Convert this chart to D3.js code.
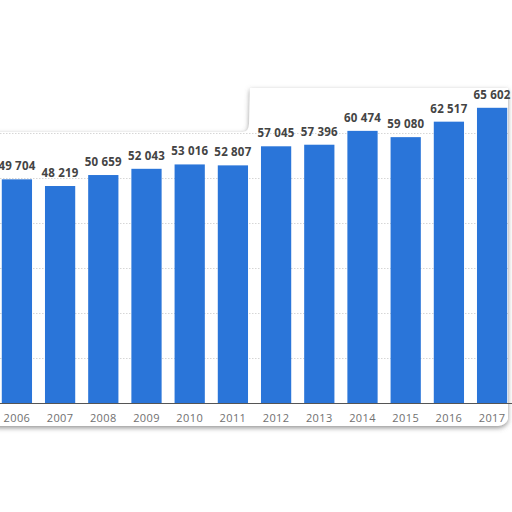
<!DOCTYPE html>
<html>
<head>
<meta charset="utf-8">
<script src="https://cdn.jsdelivr.net/npm/d3@7"></script>
<style>
  html, body { margin: 0; padding: 0; background: #fff; }
  svg { display: block; font-family: "Open Sans", sans-serif; }
</style>
</head>
<body>
<div id="chart"></div>
<script>
// Dati
const years = ["2006", "2007", "2008", "2009", "2010", "2011", "2012", "2013", "2014", "2015", "2016", "2017"];
const values = [49704, 48219, 50659, 52043, 53016, 52807, 57045, 57396, 60474, 59080, 62517, 65602];
const gridTicks = [10000, 20000, 30000, 40000, 50000, 60000];

const WIDTH = 512;
const HEIGHT = 512;
const BASE_Y = 403;
const TOP_Y = 88;

const svg = d3.select("#chart")
    .append("svg")
    .attr("width", WIDTH)
    .attr("height", HEIGHT);

const defs = svg.append("defs");
const shadow = defs.append("filter")
    .attr("id", "paper-shadow")
    .attr("x", "-10%").attr("y", "-10%")
    .attr("width", "120%").attr("height", "130%");
shadow.append("feDropShadow")
    .attr("dx", 0).attr("dy", 2)
    .attr("stdDeviation", 2.6)
    .attr("flood-color", "#666")
    .attr("flood-opacity", 0.7);

// Sagoma del foglio ritagliato
const paper = "M-5,132 L243,132 Q249,131 249,124 L250,88 L508,88 L508,419 Q506,425 498,426 L-5,426 Z";
defs.append("clipPath").attr("id", "paper-clip")
    .append("path").attr("d", paper);

svg.append("path")
    .attr("d", paper)
    .attr("fill", "#fff")
    .attr("filter", "url(#paper-shadow)");

const g = svg.append("g").attr("clip-path", "url(#paper-clip)");

const x = d3.scaleBand()
    .domain(years)
    .range([-4.7, 513.7])
    .paddingInner(0.3)
    .paddingOuter(0.15);

const y = d3.scaleLinear()
    .domain([0, 70000])
    .range([BASE_Y, TOP_Y]);

// Griglia tratteggiata
g.selectAll("line.grid")
    .data(gridTicks)
    .enter()
    .append("line")
    .attr("class", "grid")
    .attr("x1", 0).attr("x2", WIDTH)
    .attr("y1", d => y(d) + 0.5).attr("y2", d => y(d) + 0.5)
    .attr("stroke", "#d6d6d6")
    .attr("stroke-dasharray", "1.5,1.5");

// Barre
g.selectAll("rect.bar")
    .data(values)
    .enter()
    .append("rect")
    .attr("class", "bar")
    .attr("x", (d, i) => x(years[i]))
    .attr("width", x.bandwidth())
    .attr("y", d => y(d))
    .attr("height", d => BASE_Y - y(d))
    .attr("fill", "#2a75d9");

// Asse x
const xAxis = d3.axisBottom(x).tickSize(0).tickPadding(11);
const ax = svg.append("g")
    .attr("transform", `translate(0,${BASE_Y})`)
    .call(xAxis);
ax.select(".domain").attr("stroke", "#555").attr("stroke-width", 1.2);
ax.selectAll("text")
    .attr("fill", "#707070")
    .style("font-size", "11px")
    .style("letter-spacing", "0.4px")
    .style("font-family", "'Open Sans', sans-serif");

// Etichette valori
const fmt = v => d3.format(",")(v).replace(",", " ");
svg.selectAll("text.value")
    .data(values)
    .enter()
    .append("text")
    .attr("class", "value")
    .attr("x", (d, i) => x(years[i]) + x.bandwidth() / 2)
    .attr("y", d => y(d) - 9)
    .attr("text-anchor", "middle")
    .attr("fill", "#444")
    .style("font-size", "11.5px")
    .style("font-weight", "bold")
    .style("letter-spacing", "0.2px")
    .text(d => fmt(d));
</script>
</body>
</html>
